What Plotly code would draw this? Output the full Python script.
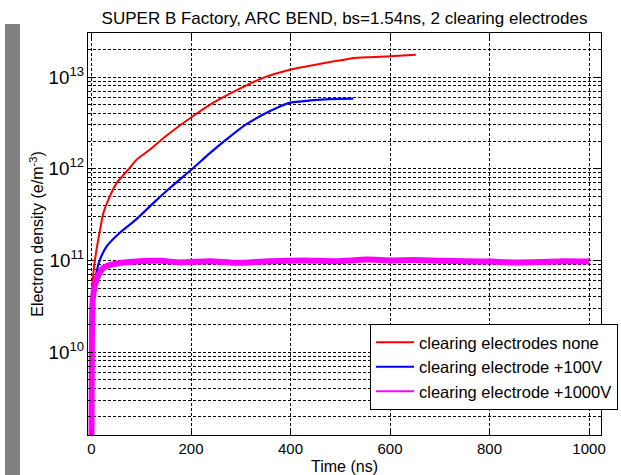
import plotly.graph_objects as go

# Electron cloud build-up, SUPER B arc bend, three clearing-electrode settings
t_none = [0, 3.6, 9, 16, 24, 34, 50.7, 74, 91, 117.6, 151, 198, 245, 292, 345, 399, 466, 533, 600, 652]
n_none = [3.5e10, 7.2e10, 1.2e11, 2.0e11, 3.3e11, 4.6e11, 7.0e11, 9.8e11, 1.26e12, 1.62e12,
          2.3e12, 3.55e12, 5.25e12, 7.2e12, 9.8e12, 1.2e13, 1.41e13, 1.62e13, 1.68e13, 1.75e13]

t_100v = [0, 0.4, 7, 17, 30.5, 57, 88, 128, 158, 201, 238, 272, 309, 345, 372, 399, 439, 479, 526]
n_100v = [2.8e10, 3.7e10, 6.2e10, 1.02e11, 1.42e11, 2.0e11, 2.75e11, 4.4e11, 6.2e11, 9.8e11,
          1.48e12, 2.1e12, 3.0e12, 3.9e12, 4.6e12, 5.25e12, 5.55e12, 5.75e12, 5.8e12]

t_1000v = [0, 1, 2.4, 7, 13.7, 24, 44, 77, 138, 178, 238, 292, 359, 426, 493, 553,
           600, 650, 700, 750, 800, 850, 900, 950, 1000]
n_1000v = [1.0e9, 2.0e10, 3.7e10, 5.4e10, 6.9e10, 8.3e10, 9.1e10, 9.6e10, 9.9e10, 9.5e10,
           9.8e10, 9.4e10, 9.8e10, 1.0e11, 9.8e10, 1.02e11, 1.0e11, 1.01e11, 9.9e10, 9.8e10,
           9.7e10, 9.5e10, 9.6e10, 9.8e10, 9.7e10]

labels = ["clearing electrodes none", "clearing electrode +100V", "clearing electrode +1000V"]
colors = ["#ff0000", "#0000ff", "#ff00ff"]
widths = [2, 2.2, 6]

W, H = 621, 475
ML, MR, MT, MB = 88, 20, 33, 40
plot_w, plot_h = W - ML - MR, H - MT - MB

FONT = "Liberation Sans, Arial, sans-serif"

fig = go.Figure()
for t, n, name, c, w in zip([t_none, t_100v, t_1000v], [n_none, n_100v, n_1000v], labels, colors, widths):
    # data curve
    fig.add_trace(go.Scatter(x=t, y=n, mode="lines", name=name, showlegend=False,
                             line=dict(color=c, width=w, shape="spline", smoothing=0.5)))
    # legend entry drawn with a thin line sample
    fig.add_trace(go.Scatter(x=[None], y=[None], mode="lines", name=name,
                             line=dict(color=c, width=2)))

grid = dict(gridcolor="black", gridwidth=1, griddash="3px,2px")

fig.update_layout(
    width=W, height=H,
    margin=dict(l=ML, r=MR, t=MT, b=MB, autoexpand=False),
    paper_bgcolor="white", plot_bgcolor="white",
    font=dict(family=FONT, size=15, color="black"),
    title=dict(text="SUPER B Factory, ARC BEND, bs=1.54ns, 2 clearing electrodes",
               x=(ML + plot_w / 2) / W, xanchor="center", xref="container",
               y=1 - 18 / H, yanchor="middle", yref="container",
               font=dict(size=17)),
    showlegend=True,
    legend=dict(x=(370 - ML) / plot_w, y=(H - MB - 324) / plot_h, xanchor="left", yanchor="top",
                bgcolor="white", bordercolor="black", borderwidth=1,
                font=dict(size=16.5), tracegroupgap=0, itemwidth=38),
    xaxis=dict(range=[-7, 1024], tickvals=[0, 200, 400, 600, 800, 1000],
               showgrid=True, **grid, zeroline=False,
               showline=True, linecolor="black", linewidth=1, mirror="allticks",
               ticks="inside", ticklen=5, tickcolor="black",
               tickfont=dict(size=15),
               title=dict(text="Time (ns)", standoff=14, font=dict(size=16))),
    yaxis=dict(type="log", range=[9.096, 13.48], dtick=1, exponentformat="power",
               showgrid=True, **grid, zeroline=False,
               showline=True, linecolor="black", linewidth=1, mirror="allticks",
               ticks="inside", ticklen=5, tickcolor="black",
               tickfont=dict(size=15),
               minor=dict(dtick="D1", showgrid=True, gridcolor="black", gridwidth=1,
                          griddash="3px,2px", ticks="inside", ticklen=3, tickcolor="black"),
               title=dict(text="Electron density (e/m<sup>-3</sup>)", standoff=0, font=dict(size=16))),
)

# grey strip along the left edge of the figure
fig.add_shape(type="rect", xref="paper", yref="paper",
              x0=(5 - ML) / plot_w, x1=(20 - ML) / plot_w,
              y0=(H - MB - H) / plot_h, y1=(H - MB - 24) / plot_h,
              fillcolor="#808080", line=dict(width=0), layer="below")

fig.write_html("out.html")
